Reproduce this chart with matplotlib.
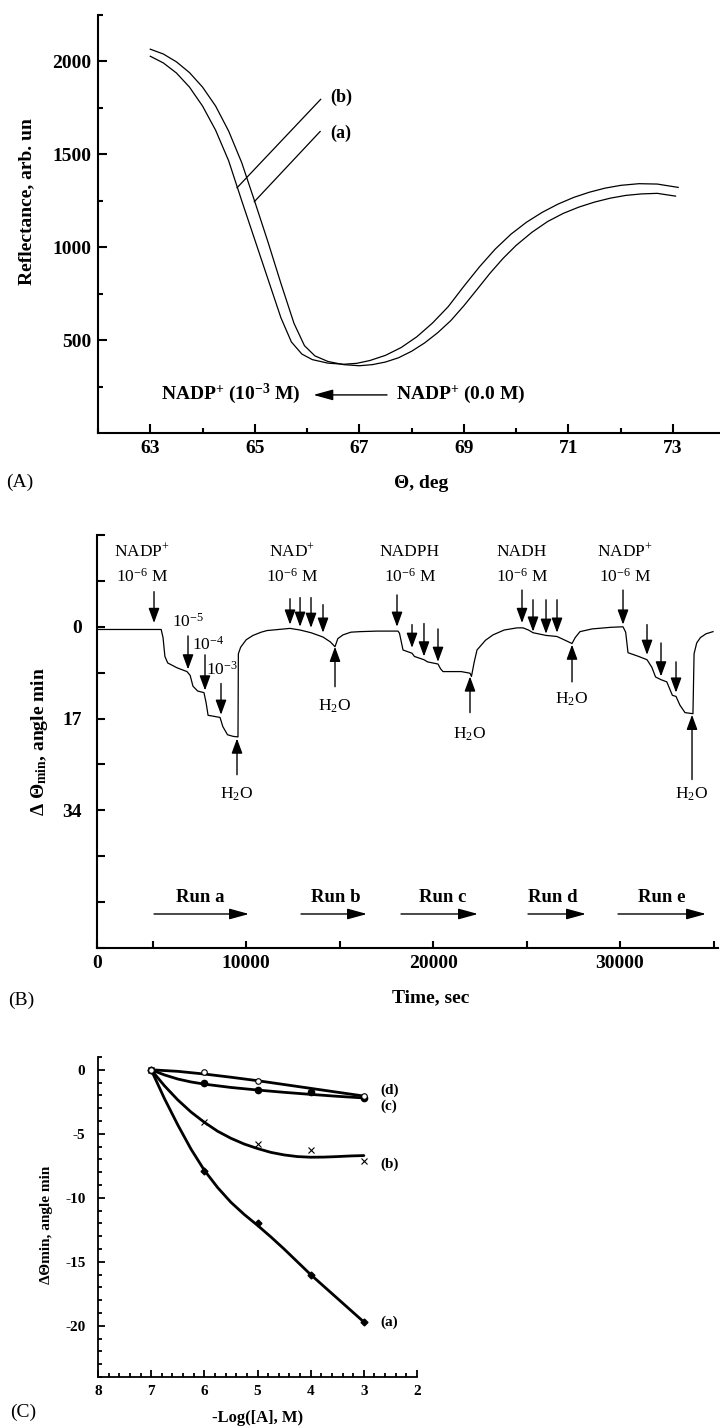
import numpy as np
import matplotlib
matplotlib.use('Agg')
import matplotlib.pyplot as plt

plt.rcParams['font.family'] = ['Liberation Serif', 'DejaVu Serif']
plt.rcParams['mathtext.fontset'] = 'custom'
plt.rcParams['mathtext.rm'] = 'Liberation Serif'
plt.rcParams['mathtext.default'] = 'regular'
plt.rcParams['axes.unicode_minus'] = False

# ---- panel A : SPR curves (angle, reflectance) ----
theta_b = [63.0, 63.25, 63.5, 63.75, 64.0, 64.25, 64.5, 64.75, 65.0, 65.25, 65.5, 65.7, 65.9,
           66.1, 66.4, 66.7, 66.95, 67.2, 67.5, 67.8, 68.1, 68.4, 68.7, 69.0, 69.3, 69.6, 69.9,
           70.2, 70.5, 70.8, 71.1, 71.4, 71.7, 72.0, 72.35, 72.7, 73.1]
refl_b = [2028, 1992, 1938, 1862, 1760, 1630, 1465, 1250, 1040, 830, 620, 490, 425,
          395, 376, 370, 375, 390, 418, 460, 518, 592, 680, 790, 895, 990, 1070,
          1135, 1188, 1232, 1268, 1296, 1318, 1333, 1342, 1340, 1322]
theta_a = [63.0, 63.25, 63.5, 63.75, 64.0, 64.25, 64.5, 64.75, 65.0, 65.25, 65.5, 65.75, 65.95,
           66.15, 66.4, 66.7, 67.0, 67.25, 67.5, 67.75, 68.0, 68.25, 68.5, 68.75, 69.0, 69.25,
           69.5, 69.75, 70.0, 70.3, 70.6, 70.9, 71.2, 71.5, 71.8, 72.1, 72.4, 72.7, 73.05]
refl_a = [2066, 2040, 1998, 1940, 1862, 1760, 1625, 1455, 1245, 1030, 805, 590, 470,
          415, 385, 368, 362, 368, 382, 405, 440, 485, 540, 605, 685, 772,
          860, 940, 1010, 1080, 1138, 1182, 1216, 1243, 1264, 1279, 1287, 1290, 1275]

# ---- panel B : sensorgram (time, shift) ----
time_s = [2100, 5450, 5550, 5650, 5800, 6300, 6830, 7000, 7150, 7400, 7740, 7850, 7960, 8300,
          8600, 8750, 9000, 9300, 9560, 9580, 9700, 10000, 10363, 10800, 11112, 12343, 12880,
          13466, 14108, 14500, 14750, 14900, 15178, 15600, 16088, 17000, 18120, 18200, 18388,
          18870, 19000, 19510, 19700, 20260, 20400, 20528, 21500, 21972, 22050, 22200, 22347,
          22800, 23203, 23800, 24487, 24808, 25100, 25343, 26039, 26627, 27000, 27430, 27600,
          27857, 28500, 29500, 30158, 30300, 30426, 31000, 31442, 31700, 31900, 32191, 32500,
          32800, 32994, 33200, 33475, 33900, 33960, 34100, 34300, 34600, 34973]
shift = [0.5, 0.5, 2.0, 5.5, 6.7, 7.6, 8.3, 9.0, 11.0, 11.9, 12.2, 14.0, 16.4, 16.6,
         16.8, 18.5, 20.0, 20.3, 20.4, 5.0, 3.8, 2.4, 1.6, 1.0, 0.7, 0.3, 0.6,
         1.1, 1.9, 2.8, 3.7, 2.2, 1.5, 1.0, 0.9, 0.8, 0.8, 1.2, 4.3,
         4.9, 5.5, 6.1, 6.5, 6.9, 7.8, 8.3, 8.3, 8.6, 9.2, 6.5, 4.3,
         2.5, 1.5, 0.6, 0.2, 0.2, 0.6, 1.1, 1.6, 1.8, 2.4, 3.1, 2.0,
         0.9, 0.4, 0.1, 0.0, 1.0, 4.8, 5.5, 6.1, 7.5, 9.3, 9.8, 10.2,
         12.7, 12.9, 14.5, 15.9, 16.1, 5.0, 3.0, 2.0, 1.3, 0.9]

# down arrows: time, tail, tip
down_t = [5067, 6886, 7795, 8651, 12343, 12880, 13466, 14108, 18067, 18870, 19510, 20260,
          24754, 25343, 26039, 26627, 30158, 31442, 32191, 32994]
down_tail = [-6.5, 1.7, 5.2, 10.5, -5.2, -5.4, -5.4, -4.1, -5.9, -0.4, -0.6, 0.4,
             -6.8, -5.0, -5.0, -5.0, -6.8, -0.4, 3.0, 6.5]
down_tip = [-0.7, 7.9, 11.8, 16.3, -0.4, 0.0, 0.2, 1.1, 0.0, 3.9, 5.5, 6.5,
            -0.7, 0.9, 1.3, 1.1, -0.4, 5.2, 9.2, 12.2]
# water injections: time, tail, tip, label level
water_t = [9507, 14750, 21972, 27430, 33850]
water_tail = [27.4, 11.1, 15.9, 10.2, 28.3]
water_tip = [20.7, 3.7, 9.2, 3.3, 16.3]
water_lab = [31.0, 14.8, 20.0, 13.5, 31.0]

inject_names = ['NADP$^{+}$', 'NAD$^{+}$', 'NADPH', 'NADH', 'NADP$^{+}$']
inject_t = [4424, 12450, 18762, 24754, 30265]
conc_labels = ['10$^{-5}$', '10$^{-4}$', '10$^{-3}$']
conc_t = [6886, 7956, 8700]
conc_v = [-0.9, 3.3, 7.9]

runs = ['Run a', 'Run b', 'Run c', 'Run d', 'Run e']
run_start = [5067, 12931, 18281, 25076, 29891]
run_end = [10149, 16462, 22400, 28178, 34599]
run_text = [7528, 14803, 20528, 26413, 32245]

# ---- panel C : dose response ----
logc = [7, 6, 5, 4, 3]
resp_a = [0, -7.9, -12.0, -16.0, -19.7]
resp_b = [0, -4.1, -5.8, -6.3, -7.1]
resp_c = [0, -1.05, -1.55, -1.7, -2.2]
logc_d = [7, 6, 5, 3]
resp_d = [0, -0.2, -0.85, -2.05]
fit_x_a = [7, 6.75, 6.5, 6.25, 6.0, 5.75, 5.5, 5.25, 5.0, 4.75, 4.5, 4.0, 3.5, 3.0]
fit_a = [0, -2.25, -4.3, -6.2, -7.85, -9.2, -10.35, -11.3, -12.15, -13.05, -14.0, -16.0,
         -17.85, -19.7]
fit_x_b = [7, 6.75, 6.5, 6.25, 6.0, 5.75, 5.5, 5.25, 5.0, 4.75, 4.5, 4.25, 4.0, 3.75, 3.5,
           3.25, 3.0]
fit_b = [0, -1.25, -2.35, -3.3, -4.1, -4.8, -5.35, -5.8, -6.15, -6.45, -6.65, -6.78,
         -6.83, -6.82, -6.78, -6.73, -6.7]
fit_x_c = [7, 6.75, 6.5, 6.25, 6.0, 5.5, 5.0, 4.5, 4.0, 3.5, 3.0]
fit_c = [0, -0.4, -0.72, -0.95, -1.12, -1.38, -1.58, -1.76, -1.92, -2.07, -2.2]
fit_x_d = [7, 6.5, 6.0, 5.5, 5.0, 4.5, 4.0, 3.5, 3.0]
fit_d = [0, -0.12, -0.33, -0.58, -0.85, -1.15, -1.45, -1.75, -2.05]

W, H = 720, 1427
fig = plt.figure(figsize=(W / 100, H / 100), dpi=100)


def box(l, t, r, b):
    return [l / W, 1 - b / H, (r - l) / W, (b - t) / H]


def style(ax, lw=1.5):
    for s in ['top', 'right']:
        ax.spines[s].set_visible(False)
    for s in ['left', 'bottom']:
        ax.spines[s].set_linewidth(lw)
    ax.tick_params(which='both', direction='in', width=lw, top=False, right=False)


bold = dict(fontweight='bold')

# ================= A =================
axA = fig.add_axes(box(98, 15, 720, 433))
style(axA)
axA.plot(theta_a, refl_a, color='k', lw=0.9)
axA.plot(theta_b, refl_b, color='k', lw=0.9)
axA.set_xlim(62, 73.9)
axA.set_ylim(0, 2250)
axA.set_xticks([63, 65, 67, 69, 71, 73])
axA.set_xticks(np.arange(62, 74, 1), minor=True)
axA.set_yticks([500, 1000, 1500, 2000])
axA.set_yticks(np.arange(250, 2251, 250), minor=True)
axA.tick_params(which='major', length=6.5, labelsize=14, pad=5)
axA.tick_params(which='minor', length=3.5)
for lab in axA.get_xticklabels() + axA.get_yticklabels():
    lab.set_fontweight('bold')
axA.set_ylabel('Reflectance, arb. un', fontsize=14, fontweight='bold', va='center')
axA.yaxis.set_label_coords(-0.114, 0.553)
axA.set_xlabel('Θ, deg', fontsize=14, fontweight='bold', va='center')
axA.xaxis.set_label_coords(0.519, -0.12)
axA.plot([66.26, 64.66], [1796, 1320], color='k', lw=0.9)
axA.plot([66.25, 64.99], [1623, 1245], color='k', lw=0.9)
axA.text(66.45, 1807, '(b)', fontsize=13, ha='left', va='center', **bold)
axA.text(66.45, 1613, '(a)', fontsize=13, ha='left', va='center', **bold)
axA.text(64.55, 210, 'NADP$^{+}$ (10$^{-3}$ M)', fontsize=14, ha='center', va='center', **bold)
axA.text(68.93, 210, 'NADP$^{+}$ (0.0 M)', fontsize=14, ha='center', va='center', **bold)
axA.annotate('', xy=(66.12, 205), xytext=(67.53, 205),
             arrowprops=dict(arrowstyle='-|>,head_length=0.8,head_width=0.22', color='k',
                             lw=1.0, mutation_scale=15, shrinkA=0, shrinkB=0))
fig.text(20 / W, 1 - 482 / H, '(A)', fontsize=14, ha='center', va='center')

# ================= B =================
axB = fig.add_axes(box(97, 535, 718, 948))
style(axB)
axB.plot(time_s, shift, color='k', lw=0.9)
axB.set_xlim(2017, 35240)
axB.set_ylim(59.5, -17)
axB.set_xticks([2017, 5000, 10000, 15000, 20000, 25000, 30000, 35000])
axB.set_xticklabels(['0', '', '10000', '', '20000', '', '30000', ''])
yt = np.arange(-17, 60, 8.5)
axB.set_yticks(yt)
axB.set_yticklabels([('%d' % v) if v in (0, 17, 34) else '' for v in yt])
axB.tick_params(axis='y', length=6, labelsize=14, pad=11)
axB.tick_params(axis='x', length=5, labelsize=14, pad=5)
for lab in axB.get_xticklabels() + axB.get_yticklabels():
    lab.set_fontweight('bold')
axB.set_ylabel('Δ Θ$_{min}$, angle min', fontsize=14, fontweight='bold', va='center')
axB.yaxis.set_label_coords(-0.092, 0.499)
axB.set_xlabel('Time, sec', fontsize=14, fontweight='bold', va='center')
axB.xaxis.set_label_coords(0.538, -0.121)

arw = dict(arrowstyle='-|>,head_length=0.6,head_width=0.22', color='k', lw=1.0,
           mutation_scale=15, shrinkA=0, shrinkB=0)
for t, a, b in zip(down_t, down_tail, down_tip):
    axB.annotate('', xy=(t, b), xytext=(t, a), arrowprops=arw)
for t, a, b, lv in zip(water_t, water_tail, water_tip, water_lab):
    axB.annotate('', xy=(t, b), xytext=(t, a), arrowprops=arw)
    axB.text(t, lv, 'H$_{2}$O', fontsize=12.5, ha='center', va='center')
for name, t in zip(inject_names, inject_t):
    axB.text(t, -13.9, name, fontsize=12.5, ha='center', va='center')
    axB.text(t, -9.2, '10$^{-6}$ M', fontsize=12.5, ha='center', va='center')
for lab, t, v in zip(conc_labels, conc_t, conc_v):
    axB.text(t, v, lab, fontsize=12.5, ha='center', va='center')
for name, a, b, tt in zip(runs, run_start, run_end, run_text):
    axB.annotate('', xy=(b, 53.2), xytext=(a, 53.2),
                 arrowprops=dict(arrowstyle='-|>,head_length=0.8,head_width=0.22', color='k',
                                 lw=1.0, mutation_scale=15, shrinkA=0, shrinkB=0))
    axB.text(tt, 50.1, name, fontsize=13.5, ha='center', va='center', **bold)
fig.text(21 / W, 1 - 1000 / H, '(B)', fontsize=14, ha='center', va='center')

# ================= C =================
axC = fig.add_axes(box(98, 1057, 417, 1377))
style(axC, lw=1.3)
for fx, fy in [(fit_x_a, fit_a), (fit_x_b, fit_b), (fit_x_c, fit_c), (fit_x_d, fit_d)]:
    axC.plot(fx, fy, color='k', lw=2.0, solid_capstyle='round', solid_joinstyle='round')
axC.plot(logc, resp_a, 'D', color='k', ms=3.5, ls='none')
axC.plot(logc, resp_b, 'x', color='k', ms=5, mew=0.8, ls='none')
axC.plot(logc, resp_c, 'o', color='k', ms=4.5, ls='none')
axC.plot(logc_d, resp_d, 'o', mfc='white', mec='k', ms=4, mew=0.8, ls='none')
axC.set_xlim(8, 2)
axC.set_ylim(-24, 1)
axC.set_xticks(np.arange(2, 9, 1))
axC.set_xticks(np.arange(2, 8.01, 0.2), minor=True)
axC.set_yticks(np.arange(-20, 1, 5))
axC.set_yticks(np.arange(-24, 1.1, 1), minor=True)
axC.tick_params(which='major', length=5, labelsize=11)
axC.tick_params(which='minor', length=3)
axC.tick_params(axis='y', pad=9)
axC.tick_params(axis='x', pad=6)
for lab in axC.get_xticklabels() + axC.get_yticklabels():
    lab.set_fontweight('bold')
axC.set_ylabel('ΔΘmin, angle min', fontsize=11, fontweight='bold', va='center')
axC.yaxis.set_label_coords(-0.163, 0.475)
axC.set_xlabel('-Log([A], M)', fontsize=12, fontweight='bold', va='center')
axC.xaxis.set_label_coords(0.5, -0.128)
for lab, v in zip(['(d)', '(c)', '(b)', '(a)'], [-1.6, -2.85, -7.4, -19.7]):
    axC.text(2.68, v, lab, fontsize=11, ha='left', va='center', **bold)
fig.text(23 / W, 1 - 1412 / H, '(C)', fontsize=14, ha='center', va='center')

fig.savefig('out.png', dpi=100)
